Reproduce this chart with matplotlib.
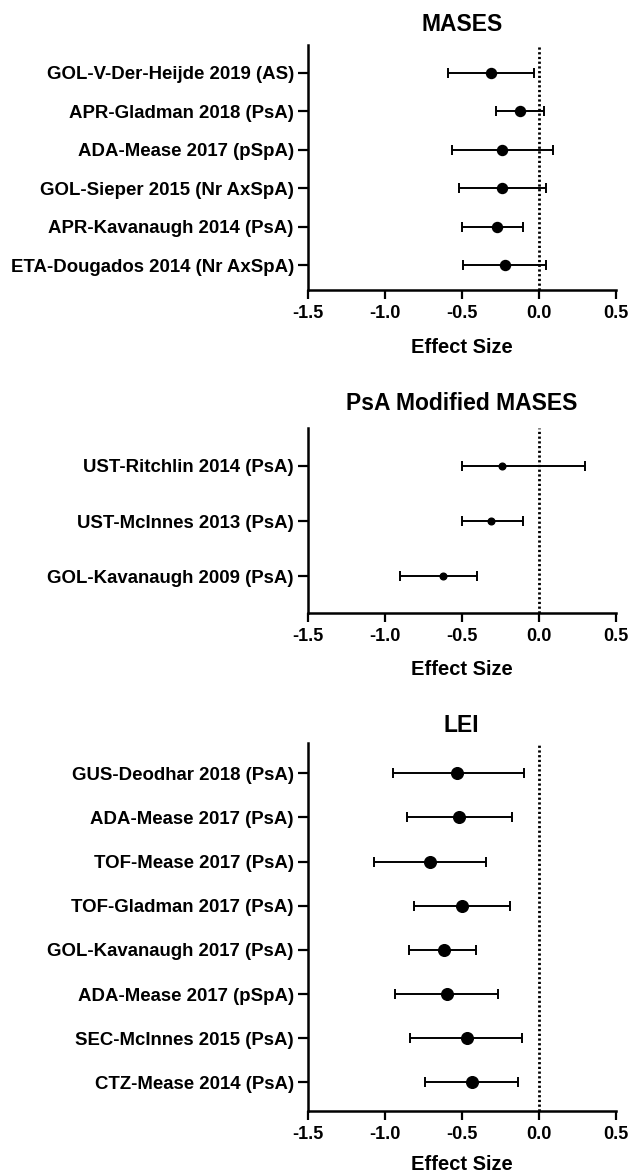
import matplotlib
matplotlib.use("Agg")
import matplotlib.pyplot as plt

plt.rcParams['font.family'] = ['Liberation Sans', 'DejaVu Sans']
plt.rcParams['font.weight'] = 'bold'

# MASES
mases_studies = ['GOL-V-Der-Heijde 2019 (AS)', 'APR-Gladman 2018 (PsA)', 'ADA-Mease 2017 (pSpA)',
                 'GOL-Sieper 2015 (Nr AxSpA)', 'APR-Kavanaugh 2014 (PsA)', 'ETA-Dougados 2014 (Nr AxSpA)']
mases_es = [-0.31, -0.12, -0.24, -0.24, -0.27, -0.22]
mases_lo = [-0.59, -0.28, -0.56, -0.52, -0.50, -0.49]
mases_hi = [-0.03, 0.035, 0.095, 0.05, -0.10, 0.05]

# PsA Modified MASES
psa_studies = ['UST-Ritchlin 2014 (PsA)', 'UST-McInnes 2013 (PsA)', 'GOL-Kavanaugh 2009 (PsA)']
psa_es = [-0.24, -0.31, -0.62]
psa_lo = [-0.50, -0.50, -0.90]
psa_hi = [0.30, -0.10, -0.40]

# LEI
lei_studies = ['GUS-Deodhar 2018 (PsA)', 'ADA-Mease 2017 (PsA)', 'TOF-Mease 2017 (PsA)',
               'TOF-Gladman 2017 (PsA)', 'GOL-Kavanaugh 2017 (PsA)', 'ADA-Mease 2017 (pSpA)',
               'SEC-McInnes 2015 (PsA)', 'CTZ-Mease 2014 (PsA)']
lei_es = [-0.53, -0.515, -0.705, -0.50, -0.615, -0.595, -0.465, -0.435]
lei_lo = [-0.945, -0.857, -1.067, -0.81, -0.84, -0.93, -0.833, -0.737]
lei_hi = [-0.095, -0.175, -0.345, -0.187, -0.407, -0.267, -0.107, -0.137]

x_ticks = [-1.5, -1.0, -0.5, 0.0, 0.5]

fig = plt.figure(figsize=(6.3, 11.74), dpi=100)

panels = [
    ('MASES', mases_studies, mases_es, mases_lo, mases_hi, [0.4884, 0.7530, 0.4889, 0.2087], (5.65, -0.73), 7.2, 10, 11),
    ('PsA Modified MASES', psa_studies, psa_es, psa_lo, psa_hi, [0.4884, 0.4781, 0.4889, 0.1571], (2.66, -0.68), 4.8, 13, 10.5),
    ('LEI', lei_studies, lei_es, lei_lo, lei_hi, [0.4884, 0.0539, 0.4889, 0.3135], (7.64, -0.69), 8.4, 8, 8.5),
]

for title, studies, es, lo, hi, rect, ylim, msize, tpad, lpad in panels:
    ax = fig.add_axes(rect)
    ypos = list(range(len(studies)))
    xerr = [[e - l for e, l in zip(es, lo)], [h - e for e, h in zip(es, hi)]]
    ax.errorbar(es, ypos, xerr=xerr, fmt='o', color='black', markersize=msize,
                elinewidth=1.4, capsize=3.3, capthick=1.4, zorder=3)
    ax.axvline(0, color='black', linestyle=(0, (0.8, 0.9)), linewidth=2.0, zorder=1)
    ax.set_xlim(-1.5, 0.5)
    ax.set_ylim(*ylim)
    ax.set_xticks(x_ticks)
    ax.set_xticklabels(['%.1f' % t for t in x_ticks])
    ax.set_yticks(ypos)
    ax.set_yticklabels(studies, fontsize=13.4)
    for s in ['top', 'right']:
        ax.spines[s].set_visible(False)
    for s in ['left', 'bottom']:
        ax.spines[s].set_linewidth(1.8)
    ax.tick_params(axis='both', width=1.6, pad=3)
    ax.tick_params(axis='x', labelsize=13, length=6.5, pad=4.5)
    ax.tick_params(axis='y', length=7)
    ax.set_xlabel('Effect Size', fontsize=14.5, fontweight='bold', labelpad=lpad)
    ax.set_title(title, fontsize=16.5, fontweight='bold', pad=tpad)

fig.savefig('out.png', dpi=100)
